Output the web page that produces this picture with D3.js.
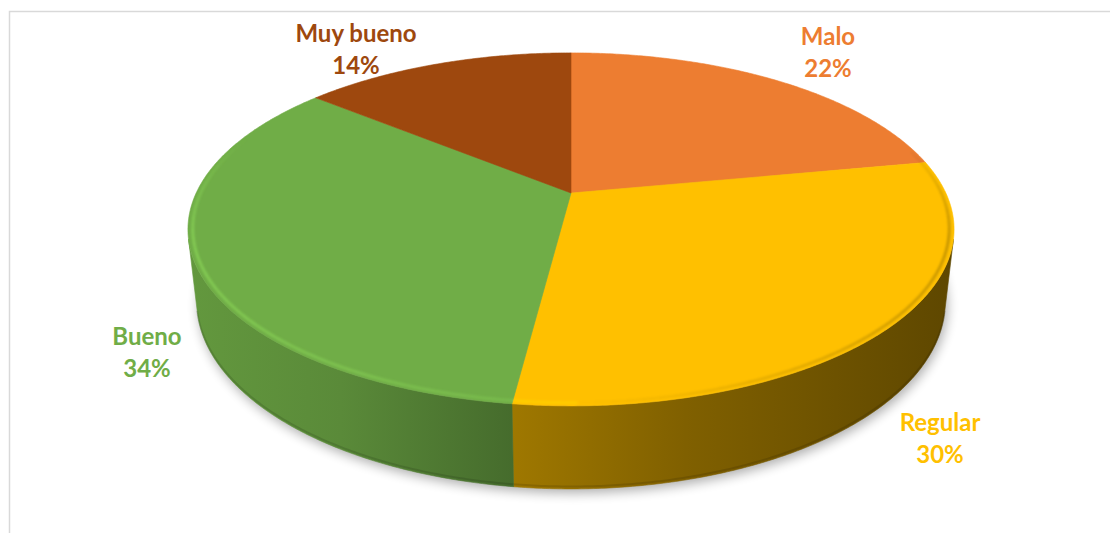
<!DOCTYPE html>
<html><head><meta charset="utf-8">
<script src="https://cdn.jsdelivr.net/npm/d3@7"></script>
<style>html,body{margin:0;padding:0;background:#fff;} svg{display:block}</style>
</head><body>
<svg id="chart" width="1110" height="533"></svg>
<script>
// ---- data ----
const categories = ["Malo", "Regular", "Bueno", "Muy bueno"];
const values = [22, 30, 34, 14];
const percentLabels = ["22%", "30%", "34%", "14%"];
const colors = ["#ED7D31", "#FFC000", "#70AD47", "#9E480E"];

// ---- layout (not data) ----
const labelLayout = [[828, 45], [940, 431], [147, 345], [356, 42]];
const lineGap = 32;

const svg = d3.select("#chart");
const defs = svg.append("defs");

// chart frame
svg.append("rect").attr("x", 9.5).attr("y", 11.5).attr("width", 1200).attr("height", 600)
  .attr("fill", "none").attr("stroke", "#D9D9D9").attr("stroke-width", 1.5);

// perspective projection of the 3D disk
const cx = 571, cy = 193;
const tilt = 26.8 * Math.PI / 180, sA = Math.sin(tilt), cA = Math.cos(tilt);
const D = 4.33, F = 1623, thick = 0.217;
function project(theta, r, Y) {
  const X = r * Math.sin(theta), Z = r * Math.cos(theta);
  const depth = -Y * sA + Z * cA + D;
  return [cx + F * X / depth, cy - F * (Y * cA + Z * sA) / depth];
}
const STEP = Math.PI / 360;
function arcPts(a0, a1, r, Y) {
  const pts = [];
  const n = Math.max(1, Math.ceil(Math.abs(a1 - a0) / STEP));
  for (let k = 0; k <= n; k++) pts.push(project(a0 + (a1 - a0) * k / n, r, Y));
  return pts;
}
const line = d3.line();

const pie = d3.pie().sort(null).value(d => d)(values);

// filters
const blur = defs.append("filter").attr("id", "shadowBlur").attr("x", "-20%").attr("y", "-20%").attr("width", "140%").attr("height", "140%");
blur.append("feGaussianBlur").attr("stdDeviation", 6);
const soft = defs.append("filter").attr("id", "soft").attr("x", "-5%").attr("y", "-5%").attr("width", "110%").attr("height", "110%");
soft.append("feGaussianBlur").attr("stdDeviation", 1.1);

// shadow
const shadowPts = arcPts(0, 2 * Math.PI, 1.0, -thick);
svg.append("path").attr("d", line(shadowPts) + "Z")
  .attr("transform", "translate(2,4)")
  .attr("fill", "#000").attr("opacity", 0.32).attr("filter", "url(#shadowBlur)");

// side shading gradients
const shadeScale = d3.scaleLinear().domain([0, 0.2, 0.43, 0.65, 1]).range([0.88, 0.8, 0.62, 0.5, 0.37]);
function shade(col, f) { const c = d3.rgb(col); return d3.rgb(c.r * f, c.g * f, c.b * f).formatHex(); }
colors.forEach((col, i) => {
  const g = defs.append("linearGradient").attr("id", "side" + i)
    .attr("gradientUnits", "userSpaceOnUse").attr("x1", 188).attr("x2", 954).attr("y1", 0).attr("y2", 0);
  shadeScale.domain().forEach(t => g.append("stop").attr("offset", t).attr("stop-color", shade(col, shadeScale(t))));
});

// visible side range
const thMin = Math.acos(-1 / (D * cA)), thMax = 2 * Math.PI - thMin;

const gPie = svg.append("g");
// sides
pie.forEach((p, i) => {
  const a0 = Math.max(p.startAngle, thMin), a1 = Math.min(p.endAngle, thMax);
  if (a1 <= a0) return;
  const top = arcPts(a0, a1, 1, 0);
  const bot = arcPts(a1, a0, 1, -thick);
  gPie.append("path").attr("d", line(top.concat(bot)) + "Z")
    .attr("fill", `url(#side${i})`).attr("stroke", `url(#side${i})`).attr("stroke-width", 0.6);
  gPie.append("path").attr("d", line(arcPts(a0, a1, 1, -thick * 0.97)))
    .attr("fill", "none").attr("stroke", "#000").attr("stroke-opacity", 0.12).attr("stroke-width", 2);
});
// tops
pie.forEach((p, i) => {
  const pts = [project(0, 0, 0)].concat(arcPts(p.startAngle, p.endAngle, 1, 0));
  gPie.append("path").attr("d", line(pts) + "Z")
    .attr("fill", colors[i]).attr("stroke", colors[i]).attr("stroke-width", 0.6).attr("stroke-linejoin", "round");
});
// bevel highlights along the rim
const gBevel = gPie.append("g").attr("filter", "url(#soft)");
pie.forEach((p, i) => {
  const lo = Math.max(p.startAngle, 75 * Math.PI / 180), hi = Math.min(p.endAngle, 300 * Math.PI / 180);
  if (hi <= lo) return;
  const n = Math.ceil((hi - lo) / (Math.PI / 90));
  for (let k = 0; k < n; k++) {
    const t0 = lo + (hi - lo) * k / n, t1 = lo + (hi - lo) * (k + 1) / n;
    const tm = (t0 + t1) / 2, X = Math.sin(tm), Zc = Math.cos(tm);
    const fade = Math.min(1, Math.max(0, (0.35 - Zc) / 0.6));
    const pts = arcPts(t0, t1, 0.988, 0);
    if (X < 0) {
      gBevel.append("path").attr("d", line(pts)).attr("fill", "none")
        .attr("stroke", d3.rgb(colors[i]).brighter(0.6)).attr("stroke-opacity", Math.min(1, (-X * 0.6 + 0.3)) * fade * 0.8)
        .attr("stroke-width", 3);
    } else {
      gBevel.append("path").attr("d", line(pts)).attr("fill", "none")
        .attr("stroke", "#000").attr("stroke-opacity", X * 0.22 * fade)
        .attr("stroke-width", 3);
    }
  }
});

// labels
categories.forEach((c, i) => {
  const [lx, ly] = labelLayout[i];
  const t = svg.append("text").attr("text-anchor", "middle")
    .attr("font-family", "Lato, 'Open Sans', sans-serif").attr("font-weight", 700)
    .attr("font-size", 24).attr("fill", colors[i]);
  t.append("tspan").attr("x", lx).attr("y", ly).text(c);
  t.append("tspan").attr("x", lx).attr("y", ly + lineGap).text(percentLabels[i]);
});
</script>
</body></html>
